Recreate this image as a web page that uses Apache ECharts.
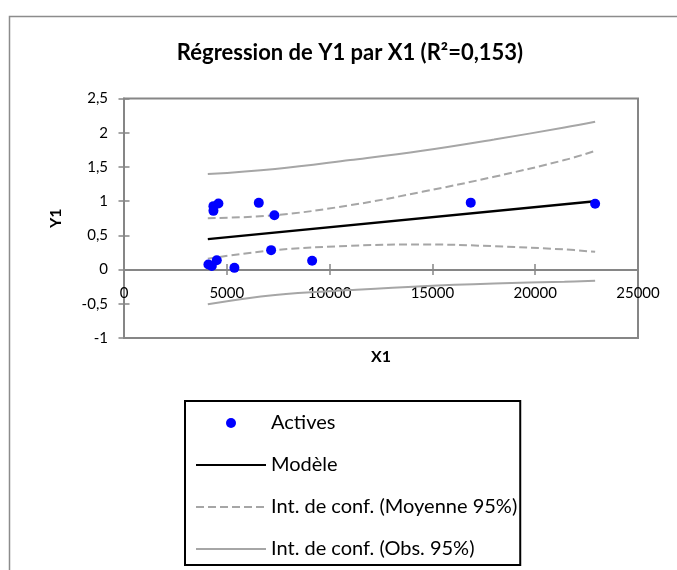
<!DOCTYPE html>
<html><head><meta charset="utf-8">
<script src="https://cdn.jsdelivr.net/npm/echarts@6/dist/echarts.min.js"></script>
<style>html,body{margin:0;padding:0;background:#fff}#c{width:677px;height:570px}</style>
</head><body><div id="c"></div>
<script>
const activesX = [4105, 4270, 4513, 4350, 4592, 4350, 5370, 6556, 7315, 7155, 9150, 16865, 22915];
const activesY = [0.074, 0.054, 0.137, 0.927, 0.966, 0.858, 0.025, 0.975, 0.795, 0.284, 0.128, 0.978, 0.962];
const modelX = [4076, 22915];
const modelY = [0.445, 1.0];
const bandX = [4076, 7350, 11000, 14500, 18000, 21420, 22915];
const meanUpper = [0.75, 0.795, 0.94, 1.136, 1.356, 1.60, 1.735];
const meanLower = [0.16, 0.284, 0.347, 0.367, 0.342, 0.294, 0.259];
const obsUpper = [1.395, 1.47, 1.6, 1.735, 1.90, 2.077, 2.16];
const obsLower = [-0.506, -0.37, -0.30, -0.243, -0.204, -0.178, -0.165];
const xTickValues = [0, 5000, 10000, 15000, 20000, 25000];
const yTickLabels = ['-1', '-0,5', '0', '0,5', '1', '1,5', '2', '2,5'];
const seriesNames = ['Actives', 'Modèle', 'Int. de conf. (Moyenne 95%)', 'Int. de conf. (Obs. 95%)'];

const zip = (xs, ys) => xs.map((x, i) => [x, ys[i]]);
const FONT = 'Lato';
const axisGrey = '#868686';
const bandGrey = '#A6A6A6';

const chart = echarts.init(document.getElementById('c'), null, {renderer: 'canvas'});
const yFmt = v => yTickLabels[Math.round((v + 1) / 0.5)] ?? String(v).replace('.', ',');
const hiddenSym = {color: 'rgba(0,0,0,0)', borderWidth: 0, opacity: 0};

// grid geometry: plot from y=98.5 to 338, y=0 at ~269.4 -> x axis offset upward
const gridTop = 98.5, gridBottom = 232, plotH = 570 - gridTop - gridBottom;
const zeroOffset = -plotH * (1 / 3.5); // distance from bottom (-1) to 0 in a -1..2.5 axis

chart.setOption({
  animation: false,
  backgroundColor: '#fff',
  title: {
    text: 'Régression de Y1 par X1 (R²=0,153)',
    left: 350, top: 42, textAlign: 'center', padding: 0,
    textStyle: {fontFamily: FONT, fontWeight: 'bold', fontSize: 22, color: '#000'}
  },
  graphic: [{
    type: 'rect', shape: {x: 9.5, y: 16.5, width: 800, height: 700},
    style: {fill: 'none', stroke: '#8c8c8c', lineWidth: 1.5}, silent: true, z: -10
  }],
  grid: {left: 124, top: gridTop, right: 39, bottom: gridBottom, show: true, borderColor: axisGrey, borderWidth: 2, containLabel: false},
  legend: {
    orient: 'vertical', left: 185, top: 401,
    data: [
      {name: seriesNames[0]},
      {name: seriesNames[1], itemStyle: hiddenSym},
      {name: seriesNames[2], itemStyle: hiddenSym},
      {name: seriesNames[3], itemStyle: hiddenSym}
    ],
    itemWidth: 70, itemHeight: 10, itemGap: 22,
    padding: [12, 3, 6, 10],
    borderColor: '#000', borderWidth: 2,
    textStyle: {fontFamily: FONT, fontSize: 20, color: '#000', lineHeight: 20}
  },
  xAxis: [{
    type: 'value', min: 0, max: 25000, interval: 5000, position: 'bottom', offset: zeroOffset,
    name: 'X1', nameLocation: 'middle', nameGap: 79,
    nameTextStyle: {fontFamily: FONT, fontWeight: 'bold', fontSize: 16, color: '#000'},
    axisLine: {onZero: false, lineStyle: {color: axisGrey, width: 2}},
    axisTick: {show: true, length: 5.5, lineStyle: {color: axisGrey, width: 1.5}},
    axisLabel: {margin: 16, fontFamily: FONT, fontSize: 15, color: '#000',
      formatter: v => String(xTickValues.find(t => t === v) ?? v)},
    splitLine: {show: false}
  }, {
    type: 'value', min: 0, max: 25000, interval: 5000, position: 'bottom', offset: zeroOffset,
    axisLine: {show: false, onZero: false},
    axisTick: {show: true, inside: true, length: 5.5, lineStyle: {color: axisGrey, width: 1.5}},
    axisLabel: {show: false}, splitLine: {show: false}
  }],
  yAxis: [{
    type: 'value', min: -1, max: 2.5, interval: 0.5,
    name: 'Y1', nameLocation: 'middle', nameGap: 60, nameRotate: 90,
    nameTextStyle: {fontFamily: FONT, fontWeight: 'bold', fontSize: 16, color: '#000'},
    axisLine: {show: true, onZero: false, lineStyle: {color: axisGrey, width: 2}},
    axisTick: {show: true, length: 5.5, lineStyle: {color: axisGrey, width: 1.5}},
    axisLabel: {margin: 16, fontFamily: FONT, fontSize: 15, color: '#000', formatter: yFmt},
    splitLine: {show: false}
  }, {
    type: 'value', min: -1, max: 2.5, interval: 0.5, position: 'left',
    axisLine: {show: false, onZero: false},
    axisTick: {show: true, inside: true, length: 5.5, lineStyle: {color: axisGrey, width: 1.5}},
    axisLabel: {show: false}, splitLine: {show: false}
  }],
  series: [
    {name: seriesNames[3], type: 'line', data: zip(bandX, obsUpper), smooth: 0.4, symbol: 'none',
      lineStyle: {color: bandGrey, width: 2}, itemStyle: {color: bandGrey}, z: 2},
    {name: seriesNames[3], type: 'line', data: zip(bandX, obsLower), smooth: 0.4, symbol: 'none',
      lineStyle: {color: bandGrey, width: 2}, itemStyle: {color: bandGrey}, z: 2},
    {name: seriesNames[2], type: 'line', data: zip(bandX, meanUpper), smooth: 0.4, symbol: 'none',
      lineStyle: {color: bandGrey, width: 2, type: [8, 4]}, itemStyle: {color: bandGrey}, z: 2},
    {name: seriesNames[2], type: 'line', data: zip(bandX, meanLower), smooth: 0.4, symbol: 'none',
      lineStyle: {color: bandGrey, width: 2, type: [8, 4]}, itemStyle: {color: bandGrey}, z: 2},
    {name: seriesNames[1], type: 'line', data: zip(modelX, modelY), symbol: 'none',
      lineStyle: {color: '#000', width: 2.5}, itemStyle: {color: '#000'}, z: 3},
    {name: seriesNames[0], type: 'scatter', data: zip(activesX, activesY), symbol: 'circle', symbolSize: 10,
      itemStyle: {color: '#0000FF', opacity: 1}, z: 4}
  ]
});
</script>
</body></html>
